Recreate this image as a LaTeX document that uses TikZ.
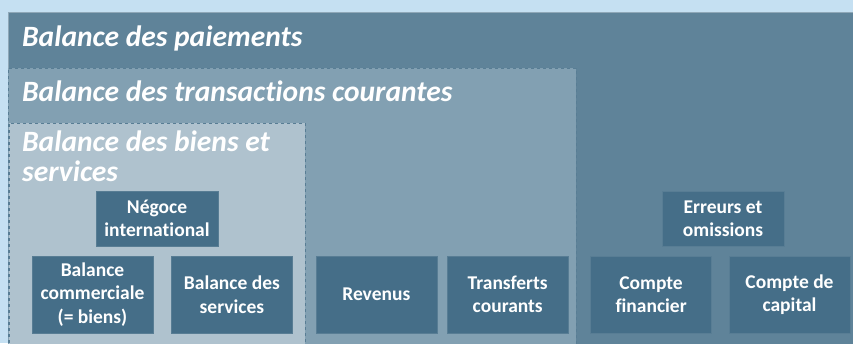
\documentclass[tikz,border=0pt]{standalone}
\usepackage{fontspec}
\setmainfont{Carlito}[Ligatures=NoCommon]
\usetikzlibrary{positioning}
\definecolor{PageSky}{HTML}{C5E0F2}
\definecolor{BopSlate}{HTML}{5F8399}
\definecolor{BopSteel}{HTML}{82A0B2}
\definecolor{BopMist}{HTML}{AFC2CE}
\definecolor{BopDeep}{HTML}{456E88}
\definecolor{BopEdge}{HTML}{587D94}
\tikzset{
    % Big container boxes
    container/.style={
        rectangle,
        anchor=north west,
        inner sep=0pt
    },
    % Container titles
    boxtitle/.style={
        anchor=base west,
        inner sep=0pt,
        text=white,
        align=left,
        font=\fontsize{29.5}{30}\selectfont\bfseries\itshape
    },
    % Account box
    account/.style={
        rectangle,
        draw=BopEdge,
        fill=BopDeep,
        text=white,
        minimum width=121pt,
        minimum height=77pt,
        inner sep=0pt,
        align=center,
        font=\fontsize{19.5}{23.5}\selectfont\bfseries
    },
    % Upper account box
    subaccount/.style={
        account,
        minimum width=122pt,
        minimum height=55pt
    }
}
\begin{document}
\begin{tikzpicture}[x=1pt, y=-1pt, node distance=10pt and 18pt]
    \useasboundingbox [fill=PageSky] (0,0) rectangle (853,343);

    % Nested containers
    \node (paiements) [container, fill=BopSlate, draw=BopSlate!70!white,
        minimum width=860pt, minimum height=345pt] at (8,12) {};
    \node (courantes) [container, fill=BopSteel, draw=BopEdge, dashed,
        minimum width=568pt, minimum height=290pt] at (8,68) {};
    \node (biens) [container, fill=BopMist, draw=BopEdge, dashed,
        minimum width=296pt, minimum height=235pt] at (9,123) {};

    \node (tpaie) [boxtitle] at (22,46) {Balance des paiements};
    \node (tcour) [boxtitle] at (22,101) {Balance des transactions courantes};
    \node (tbien) [boxtitle] at (22,181) {Balance des biens et\\services};

    % Bottom row of accounts
    \node (bcom) [account] at (92.5,294.5) {Balance\\commerciale\\(= biens)};
    \node (bserv) [account, right=18pt of bcom] {Balance des\\services};
    \node (revenus) [account, right=23pt of bserv] {Revenus};
    \node (transferts) [account, right=10pt of revenus] {Transferts\\courants};
    \node (cfin) [account, right=22pt of transferts] {Compte\\financier};
    \node (ccap) [account, right=17pt of cfin] {Compte de\\capital};

    % Upper accounts
    \node (negoce) [subaccount] at (157,218.5) {Négoce\\international};
    \node (erreurs) [subaccount] at (723,218.5) {Erreurs et\\omissions};
\end{tikzpicture}
\end{document}
